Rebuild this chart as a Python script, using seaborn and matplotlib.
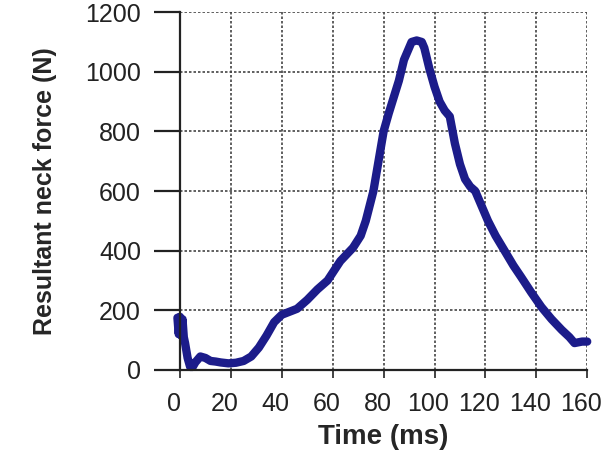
import numpy as np
import pandas as pd
import matplotlib
matplotlib.use('Agg')
import matplotlib.pyplot as plt
import matplotlib.transforms as mtransforms
import seaborn as sns

# Curva: força resultante no pescoço ao longo do tempo
time_ms = [-1, -0.5, 0, 0.5, 1, 1.5, 2, 3, 4, 5, 6, 8, 10, 12, 14, 16, 19,
           22, 25, 28, 31, 34, 37, 40, 43, 46, 50, 54, 58, 63, 68, 71, 73, 76,
           78, 80, 82, 84, 86, 88, 90, 91, 93, 95, 96, 98, 100, 102, 104, 106,
           108, 110, 112, 114, 116, 118, 121, 124, 128, 131, 134, 138, 142,
           146, 150, 153, 155, 158, 160]
force_n = [175, 120, 178, 115, 170, 110, 90, 40, 10, 10, 25, 45, 40, 30, 28,
           25, 22, 24, 30, 45, 75, 115, 160, 185, 195, 205, 235, 270, 300, 365,
           410, 450, 500, 600, 700, 800, 860, 915, 970, 1040, 1080, 1100, 1105,
           1100, 1080, 1010, 950, 900, 870, 850, 760, 690, 640, 615, 600, 560,
           500, 450, 393, 350, 312, 260, 211, 170, 134, 110, 90, 95, 95]

x_ticks = [0, 20, 40, 60, 80, 100, 120, 140, 160]
y_ticks = [0, 200, 400, 600, 800, 1000, 1200]

df = pd.DataFrame({'Time (ms)': time_ms, 'Resultant neck force (N)': force_n})

sns.set_style('white')
plt.rcParams['font.family'] = ['Liberation Sans', 'DejaVu Sans']

fig = plt.figure(figsize=(6.06, 4.5), dpi=100)
ax = fig.add_axes([0.297, 0.178, 0.672, 0.795])

sns.lineplot(data=df, x='Time (ms)', y='Resultant neck force (N)', ax=ax,
             color='#1c1c8a', linewidth=6, solid_joinstyle='round',
             clip_on=False)

ax.set_xlim(0, 160)
ax.set_ylim(0, 1200)
ax.set_xticks(x_ticks)
ax.set_yticks(y_ticks)
ax.grid(True, color='#444444', linestyle=(0, (1.5, 1.2)), linewidth=1.2)
ax.set_axisbelow(True)

for side in ['top', 'right']:
    ax.spines[side].set_visible(False)
for side in ['left', 'bottom']:
    ax.spines[side].set_color('#222222')
    ax.spines[side].set_linewidth(1.6)

ax.tick_params(axis='y', direction='out', length=19, width=1.6,
               pad=9, labelsize=18, colors='#222222', left=True)
ax.tick_params(axis='x', direction='out', length=6, width=1.2,
               pad=10, labelsize=18, colors='#222222', bottom=True)

# os rótulos do eixo x ficam um pouco à esquerda das marcas
shift = mtransforms.ScaledTranslation(-6 / 100, 0, fig.dpi_scale_trans)
for lbl in ax.get_xticklabels():
    lbl.set_transform(lbl.get_transform() + shift)

ax.set_xlabel('Time (ms)', fontsize=20, fontweight='bold', labelpad=6)
ax.set_ylabel('Resultant neck force (N)', fontsize=18, fontweight='bold',
              labelpad=20)

fig.savefig('out.png', dpi=100)
